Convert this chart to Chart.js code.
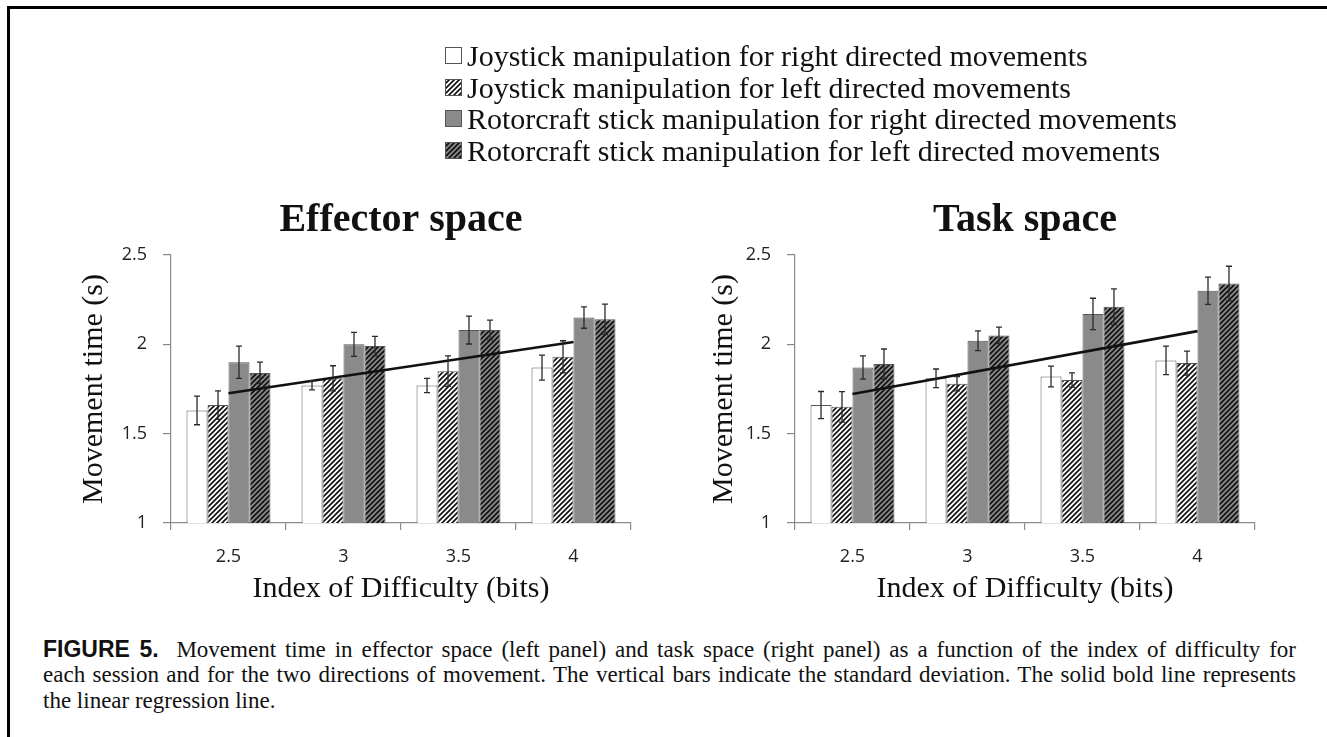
<!DOCTYPE html>
<html><head><meta charset="utf-8">
<script src="https://cdn.jsdelivr.net/npm/chart.js@4.4.1/dist/chart.umd.min.js"></script>
<style>
html,body{margin:0;padding:0;background:#fff;width:1327px;height:737px;overflow:hidden;}
#frame{position:absolute;left:7px;top:6px;width:1400px;height:800px;border-left:3px solid #000;border-top:3px solid #000;}
.cv{position:absolute;}
.lrow{position:absolute;left:445px;height:31px;display:flex;align-items:center;white-space:nowrap;font-family:"Liberation Serif","Times New Roman",serif;font-size:30px;line-height:31px;color:#111;}
.lrow canvas{margin-right:5px;display:block;}
.cap{position:absolute;left:43px;font-family:"Liberation Serif","Times New Roman",serif;font-size:23px;line-height:25px;white-space:nowrap;color:#111;}
.cap b{font-family:"Liberation Sans",Arial,sans-serif;font-weight:bold;}
</style></head>
<body>
<div id="frame"></div>
<div id="legend"></div>
<canvas id="effector" class="cv" width="610" height="450" style="left:40px;top:180px;width:610px;height:450px;"></canvas>
<canvas id="task" class="cv" width="610" height="450" style="left:664px;top:180px;width:610px;height:450px;"></canvas>
<div class="cap just" style="top:636.7px;"><b>FIGURE 5.</b>&nbsp; Movement time in effector space (left panel) and task space (right panel) as a function of the index of difficulty for</div>
<div class="cap just" style="top:662.2px;">each session and for the two directions of movement. The vertical bars indicate the standard deviation. The solid bold line represents</div>
<div class="cap" style="top:687.7px;">the linear regression line.</div>
<script>
// ---- data ----
const categories = ['2.5', '3', '3.5', '4'];
const seriesLabels = [
  'Joystick manipulation for right directed movements',
  'Joystick manipulation for left directed movements',
  'Rotorcraft stick manipulation for right directed movements',
  'Rotorcraft stick manipulation for left directed movements'
];
const panelTitles = ['Effector space', 'Task space'];
const yTickValues = [1, 1.5, 2, 2.5];

const effJoyRight = [1.63, 1.77, 1.77, 1.87];
const effJoyLeft  = [1.66, 1.81, 1.85, 1.93];
const effRotRight = [1.90, 2.00, 2.08, 2.15];
const effRotLeft  = [1.84, 1.99, 2.08, 2.14];
const effJoyRightSD = [0.08, 0.025, 0.04, 0.07];
const effJoyLeftSD  = [0.08, 0.07, 0.085, 0.09];
const effRotRightSD = [0.09, 0.067, 0.078, 0.06];
const effRotLeftSD  = [0.06, 0.055, 0.055, 0.085];
const effRegression = [1.726, null, null, 2.013];

const taskJoyRight = [1.66, 1.81, 1.82, 1.91];
const taskJoyLeft  = [1.65, 1.78, 1.80, 1.895];
const taskRotRight = [1.87, 2.02, 2.17, 2.30];
const taskRotLeft  = [1.89, 2.05, 2.21, 2.34];
const taskJoyRightSD = [0.076, 0.052, 0.058, 0.08];
const taskJoyLeftSD  = [0.085, 0.04, 0.04, 0.067];
const taskRotRightSD = [0.065, 0.055, 0.088, 0.076];
const taskRotLeftSD  = [0.084, 0.046, 0.10, 0.097];
const taskRegression = [1.722, null, null, 2.074];

// ---- styles ----
const GREY = '#8a8a8a';
function hatch(bg){
  const s = 5;
  const c = document.createElement('canvas'); c.width = s; c.height = s;
  const g = c.getContext('2d');
  g.fillStyle = bg; g.fillRect(0,0,s,s);
  g.strokeStyle = '#111'; g.lineWidth = 1.7; g.beginPath();
  g.moveTo(-1,1); g.lineTo(1,-1);
  g.moveTo(0,s); g.lineTo(s,0);
  g.moveTo(s-1,s+1); g.lineTo(s+1,s-1);
  g.stroke();
  return g.createPattern(c,'repeat');
}
const fills = ['#ffffff', hatch('#ffffff'), GREY, hatch(GREY)];

// ---- legend ----
const legendTops = [40, 71.5, 103, 134.5];
seriesLabels.forEach((lab,k)=>{
  const row = document.createElement('div'); row.className='lrow'; row.style.top = legendTops[k]+'px';
  const sw = document.createElement('canvas'); sw.width=17; sw.height=17;
  const g = sw.getContext('2d'); g.fillStyle = fills[k]; g.fillRect(0,0,17,17);
  g.strokeStyle = '#555'; g.lineWidth = 1; g.strokeRect(0.5,0.5,16,16);
  row.appendChild(sw);
  const t = document.createElement('span'); t.textContent = lab; row.appendChild(t);
  document.getElementById('legend').appendChild(row);
});

// ---- error bars ----
const errorBarPlugin = {
  id:'errbars',
  afterDatasetsDraw(chart){
    const ctx = chart.ctx, ys = chart.scales.y;
    chart.data.datasets.forEach((ds,i)=>{
      if(!ds.errors) return;
      const meta = chart.getDatasetMeta(i);
      meta.data.forEach((bar,j)=>{
        const v = ds.data[j], e = ds.errors[j];
        const x = bar.x, y1 = ys.getPixelForValue(v+e), y2 = ys.getPixelForValue(v-e);
        ctx.save(); ctx.strokeStyle='#2a2a2a'; ctx.lineWidth=1.3;
        ctx.beginPath();
        ctx.moveTo(x,y1); ctx.lineTo(x,y2);
        ctx.moveTo(x-3,y1); ctx.lineTo(x+3,y1);
        ctx.moveTo(x-3,y2); ctx.lineTo(x+3,y2);
        ctx.stroke(); ctx.restore();
      });
    });
  }
};

function makeChart(id, title, sets, sds, reg, yTitlePad){
  return new Chart(document.getElementById(id), {
    type:'bar',
    data:{labels:categories, datasets:[
      {type:'line', label:'regression', data:reg, borderColor:'#111', borderWidth:2.6, pointRadius:0, spanGaps:true, order:-1, fill:false},
      ...sets.map((d,k)=>({label:seriesLabels[k], data:d, errors:sds[k], backgroundColor:fills[k],
        borderColor:'#555', borderWidth:1, borderSkipped:false, categoryPercentage:0.73, barPercentage:1}))
    ]},
    options:{
      responsive:false, animation:false, events:[],
      layout:{padding:{left:0,right:19,top:0,bottom:0}},
      plugins:{
        legend:{display:false}, tooltip:{enabled:false},
        title:{display:true, text:title, fullSize:false, color:'#111',
          font:{family:'"Liberation Serif"', size:40, weight:'bold', lineHeight:1},
          padding:{top:20.8, bottom:14.2}}
      },
      scales:{
        x:{
          offset:true,
          grid:{offset:true, drawOnChartArea:false, tickLength:7, color:'#8a8a8a', lineWidth:1.2},
          border:{color:'#8a8a8a', width:1.2},
          ticks:{font:{family:'"Open Sans"', size:18}, color:'#222', padding:16},
          title:{display:true, text:'Index of Difficulty (bits)', color:'#111',
            font:{family:'"Liberation Serif"', size:30, lineHeight:1.2}, padding:{top:0,bottom:23}},
          afterFit(s){ s.height = 107; }
        },
        y:{
          min:yTickValues[0], max:yTickValues[yTickValues.length-1],
          afterBuildTicks(s){ s.ticks = yTickValues.map(v=>({value:v})); },
          grid:{drawOnChartArea:false, tickLength:8, color:'#8a8a8a', lineWidth:1.2},
          border:{color:'#8a8a8a', width:1.2},
          ticks:{font:{family:'"Open Sans"', size:18}, color:'#222', padding:16, callback:(v)=>String(v)},
          title:{display:true, text:'Movement time (s)', color:'#111',
            font:{family:'"Liberation Serif"', size:30, lineHeight:1.2}, padding:{top:yTitlePad,bottom:0}},
          afterFit(s){ s.width = 131; }
        }
      }
    },
    plugins:[errorBarPlugin]
  });
}

makeChart('effector', panelTitles[0],
  [effJoyRight, effJoyLeft, effRotRight, effRotLeft],
  [effJoyRightSD, effJoyLeftSD, effRotRightSD, effRotLeftSD], effRegression, 36);
makeChart('task', panelTitles[1],
  [taskJoyRight, taskJoyLeft, taskRotRight, taskRotLeft],
  [taskJoyRightSD, taskJoyLeftSD, taskRotRightSD, taskRotLeftSD], taskRegression, 42);

// ---- justify caption lines ----
document.querySelectorAll('.cap.just').forEach(el=>{
  const target = 1253;
  const w = el.getBoundingClientRect().width;
  const spaces = (el.textContent.match(/[ \u00a0]/g)||[]).length;
  if (spaces) el.style.wordSpacing = ((target - w)/spaces)+'px';
});
</script>
</body></html>
